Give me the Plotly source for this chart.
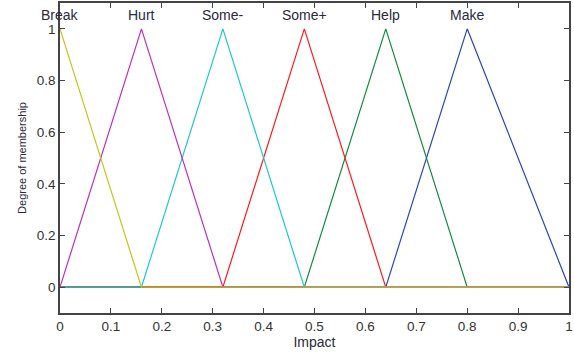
import plotly.graph_objects as go

names = ["Break", "Hurt", "Some-", "Some+", "Help", "Make"]
left = [0.0, 0.0, 0.16, 0.32, 0.48, 0.64]
peak = [0.0, 0.16, 0.32, 0.48, 0.64, 0.80]
right = [0.16, 0.32, 0.48, 0.64, 0.80, 1.0]
colors = ["#c4c41a", "#bb2fbb", "#1ec8c8", "#ff1a1a", "#138a3c", "#2a45b8"]
xticks = [0, 0.1, 0.2, 0.3, 0.4, 0.5, 0.6, 0.7, 0.8, 0.9, 1]
xticklabels = ["0", "0.1", "0.2", "0.3", "0.4", "0.5", "0.6", "0.7", "0.8", "0.9", "1"]
yticks = [0, 0.2, 0.4, 0.6, 0.8, 1]
yticklabels = ["0", "0.2", "0.4", "0.6", "0.8", "1"]

fig = go.Figure()
for i in reversed(range(len(names))):
    xs, ys = [], []
    if left[i] > 0:
        xs += [0.0, left[i]]; ys += [0, 0]
    elif peak[i] > 0:
        xs += [left[i]]; ys += [0]
    xs += [peak[i]]; ys += [1]
    xs += [right[i]]; ys += [0]
    if right[i] < 1:
        xs += [1.0]; ys += [0]
    fig.add_trace(go.Scatter(x=xs, y=ys, mode="lines", name=names[i],
                             line=dict(color=colors[i], width=1.2), showlegend=False))

for i, n in enumerate(names):
    fig.add_annotation(x=peak[i], y=1.055, text=n, showarrow=False, xref="x", yref="y",
                       font=dict(size=14, color="#2a2a3a"), yanchor="middle")

axis_common = dict(showline=True, linecolor="#444", linewidth=1.5, mirror="ticks",
                   ticks="inside", ticklen=5, tickcolor="#444", showgrid=False, zeroline=False,
                   ticklabeloverflow="allow",
                   tickfont=dict(family="Liberation Sans, Arial", size=13.5, color="#333"))
fig.update_xaxes(range=[0, 1], tickvals=xticks, ticktext=xticklabels,
                 title=dict(text="Impact", font=dict(size=14, color="#2a2a3a"), standoff=2), **axis_common)
fig.update_yaxes(range=[-0.1, 1.1], tickvals=yticks, ticktext=yticklabels,
                 title=dict(text="Degree of membership", font=dict(size=11, color="#2a2a3a"), standoff=8),
                 **axis_common)
fig.update_layout(width=574, height=352, margin=dict(l=60, r=2, t=1, b=39),
                  plot_bgcolor="white", paper_bgcolor="white",
                  font=dict(family="Liberation Sans, Arial"))
fig.write_html("out.html", config={"displayModeBar": False},
               post_script="document.body.style.margin='0';document.body.style.overflow='hidden';")
